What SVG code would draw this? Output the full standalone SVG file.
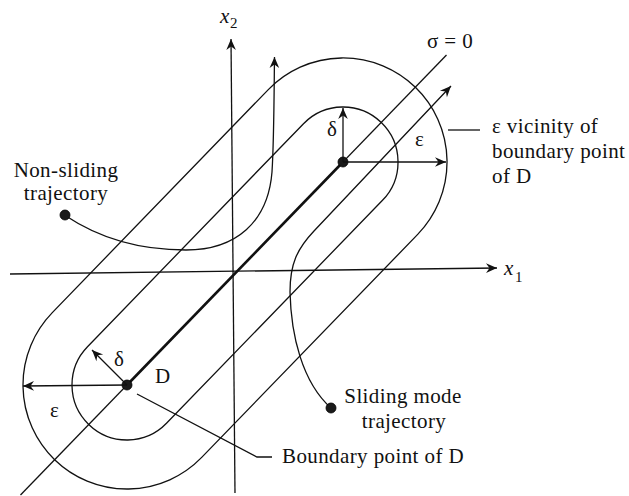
<svg xmlns="http://www.w3.org/2000/svg" width="629" height="496" viewBox="0 0 629 496">
<style>
  .ln{fill:none;stroke:#111;stroke-width:1.3}
  .thick{fill:none;stroke:#111;stroke-width:2.6}
  .dot{fill:#1a1a1a;stroke:#000;stroke-width:0.8}
  .t{font-family:"Liberation Serif","DejaVu Serif",serif;font-size:21px;letter-spacing:0.4px;fill:#111}
  .it{font-style:italic;letter-spacing:0}
  .sub{font-size:15px;letter-spacing:0}
</style>
<defs>
  <marker id="ah" viewBox="-12 -6 13 12" markerWidth="13" markerHeight="12" refX="0" refY="0" orient="auto" markerUnits="userSpaceOnUse">
    <path d="M0,0 L-11,-4.8 L-7.5,0 L-11,4.8 Z" fill="#111"/>
  </marker>
</defs>
<rect width="629" height="496" fill="#fff"/>

<g id="axes">
  <line class="ln" x1="10" y1="274" x2="497" y2="268" marker-end="url(#ah)"/>
  <line class="ln" x1="235" y1="493" x2="231" y2="39" marker-end="url(#ah)"/>
  <text class="t it" x="220" y="23">x</text><text class="t sub" x="230" y="28">2</text>
  <text class="t it" x="504" y="275">x</text><text class="t sub" x="515" y="282">1</text>
</g>

<g id="sigma-line">
  <line class="ln" x1="20.5" y1="495" x2="446.5" y2="55"/>
  <text class="t" x="427" y="48">σ = 0</text>
</g>

<g id="epsilon-vicinity">
  <path class="ln" d="M268.3,89.6 A104,104 0 0 1 417.7,234.4 L201.7,457.4 A104,104 0 0 1 52.3,312.6 Z"/>
</g>

<g id="delta-vicinity">
  <path class="ln" d="M303.5,123.7 A55,55 0 0 1 382.5,200.3 L166.5,423.3 A55,55 0 0 1 87.5,346.7 Z"/>
</g>

<g id="segment-D">
  <line class="thick" x1="127" y1="385" x2="343" y2="162"/>
  <text class="t" x="155" y="383">D</text>
</g>

<g id="non-sliding-trajectory">
  <path class="ln" d="M66,216 C108,244 150,250 186,250 C236,250 268,222 272,172 C274,140 274,100 274.5,57" marker-end="url(#ah)"/>
  <circle class="dot" cx="65" cy="215" r="5"/>
  <text class="t" x="66" y="177" text-anchor="middle">Non-sliding</text>
  <text class="t" x="66" y="200" text-anchor="middle">trajectory</text>
</g>

<g id="sliding-mode-trajectory">
  <path class="ln" d="M331,408 C302,382 291,335 290,292 C290,264 297,249 314,231 L451,86" marker-end="url(#ah)"/>
  <circle class="dot" cx="331" cy="408" r="5"/>
  <text class="t" x="403" y="403" text-anchor="middle">Sliding mode</text>
  <text class="t" x="404" y="428" text-anchor="middle">trajectory</text>
</g>

<g id="upper-boundary-point">
  <circle class="dot" cx="343" cy="162" r="5"/>
</g>

<g id="lower-boundary-point">
  <circle class="dot" cx="127" cy="385" r="5"/>
</g>

<g id="connectors">
  <line class="ln" x1="343" y1="162" x2="343" y2="108" marker-end="url(#ah)"/>
  <line class="ln" x1="343" y1="162" x2="446" y2="162" marker-end="url(#ah)"/>
  <line class="ln" x1="127" y1="385" x2="92" y2="350" marker-end="url(#ah)"/>
  <line class="ln" x1="127" y1="385" x2="23" y2="386" marker-end="url(#ah)"/>
  <polyline class="ln" points="137,394 257,457 272,457"/>
  <line class="ln" x1="448" y1="130" x2="480" y2="130"/>
</g>

<g id="labels">
  <text class="t" x="327" y="136">δ</text>
  <text class="t" x="415" y="146">ε</text>
  <text class="t" x="114" y="366">δ</text>
  <text class="t" x="50" y="417">ε</text>
  <text class="t" x="492" y="133">ε vicinity of</text>
  <text class="t" x="492" y="158">boundary point</text>
  <text class="t" x="492" y="183">of D</text>
  <text class="t" x="282" y="463">Boundary point of D</text>
</g>
</svg>
